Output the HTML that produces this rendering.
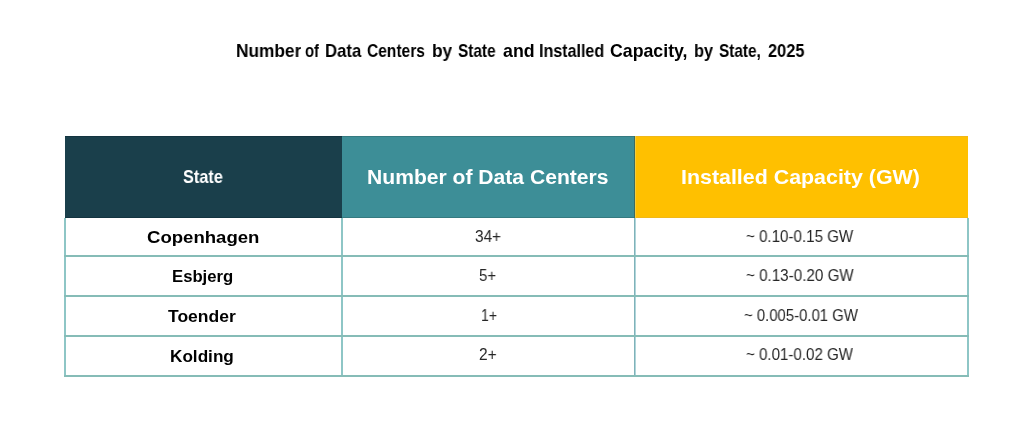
<!DOCTYPE html>
<html><head><meta charset="utf-8">
<style>
html,body{margin:0;padding:0;background:#fff;}
body{width:1027px;height:438px;position:relative;overflow:hidden;font-family:"Liberation Sans", Arial, sans-serif;}
.x{position:absolute;white-space:nowrap;line-height:1;transform-origin:0 0;will-change:transform;}
.h{position:absolute;top:136px;height:82px;}
.hl{position:absolute;background:#86bcb7;height:2px;left:64px;width:905px;}
.vl{position:absolute;background:#8ec6c6;width:2px;top:218px;height:159px;}
</style></head><body>
<div class="h" style="left:65px;width:277px;background:#1a3f4b;box-shadow:inset 0 1px 0 #133440,inset 0 -1px 0 #133440"></div>
<div class="h" style="left:342px;width:293px;background:#3d8e97;box-shadow:inset 0 1px 0 #357a80,inset 0 -1px 0 #357a80"></div>
<div class="h" style="left:635px;width:333px;background:#ffc000;box-shadow:inset 0 1px 0 #f0b818,inset 0 -1px 0 #f0b818"></div>
<div class="h" style="left:634px;width:1px;background:#3c6b60"></div>
<div class="h" style="left:635px;width:1px;background:#f6cc40"></div>
<div class="vl" style="left:64px"></div>
<div class="vl" style="left:341px"></div>
<div class="vl" style="left:634px;width:1px;background:#7fb2b9"></div>
<div class="vl" style="left:635px;width:1px;background:#b0d5da"></div>
<div class="vl" style="left:967px"></div>
<div class="hl" style="top:255px"></div>
<div class="hl" style="top:295px"></div>
<div class="hl" style="top:335px"></div>
<div class="hl" style="top:375px"></div>
<div class="x" style="left:236.16px;top:42.6px;font-size:17.71px;font-weight:bold;color:#000;transform:scaleX(0.9773)">Number</div>
<div class="x" style="left:305.35px;top:42.6px;font-size:17.71px;font-weight:bold;color:#000;transform:scaleX(0.8401)">of</div>
<div class="x" style="left:324.79px;top:42.6px;font-size:17.71px;font-weight:bold;color:#000;transform:scaleX(0.9476)">Data</div>
<div class="x" style="left:367.38px;top:42.6px;font-size:17.71px;font-weight:bold;color:#000;transform:scaleX(0.8793)">Centers</div>
<div class="x" style="left:432.26px;top:42.6px;font-size:17.71px;font-weight:bold;color:#000;transform:scaleX(0.976)">by</div>
<div class="x" style="left:458.19px;top:42.6px;font-size:17.71px;font-weight:bold;color:#000;transform:scaleX(0.8685)">State</div>
<div class="x" style="left:503.24px;top:42.6px;font-size:17.71px;font-weight:bold;color:#000;transform:scaleX(1.0049)">and</div>
<div class="x" style="left:538.74px;top:42.6px;font-size:17.71px;font-weight:bold;color:#000;transform:scaleX(0.9081)">Installed</div>
<div class="x" style="left:609.89px;top:42.6px;font-size:17.71px;font-weight:bold;color:#000;transform:scaleX(1.0027)">Capacity,</div>
<div class="x" style="left:694.22px;top:42.6px;font-size:17.71px;font-weight:bold;color:#000;transform:scaleX(0.9251)">by</div>
<div class="x" style="left:718.89px;top:42.6px;font-size:17.71px;font-weight:bold;color:#000;transform:scaleX(0.8666)">State,</div>
<div class="x" style="left:768.11px;top:42.6px;font-size:17.71px;font-weight:bold;color:#000;transform:scaleX(0.927)">2025</div>
<div class="x" style="left:182.67px;top:168.8px;font-size:17.71px;font-weight:bold;color:#fff;transform:scaleX(0.9202)">State</div>
<div class="x" style="left:367.13px;top:167px;font-size:20.0px;font-weight:bold;color:#fff;transform:scaleX(1.055)">Number of Data Centers</div>
<div class="x" style="left:680.52px;top:167.8px;font-size:19.71px;font-weight:bold;color:#fff;transform:scaleX(1.0862)">Installed Capacity (GW)</div>
<div class="x" style="left:146.56px;top:229.5px;font-size:16.6px;font-weight:bold;color:#000;transform:scaleX(1.1189)">Copenhagen</div>
<div class="x" style="left:172.1px;top:268.5px;font-size:16.6px;font-weight:bold;color:#000;transform:scaleX(1.0054)">Esbjerg</div>
<div class="x" style="left:167.93px;top:308.7px;font-size:16.6px;font-weight:bold;color:#000;transform:scaleX(1.0542)">Toender</div>
<div class="x" style="left:170.37px;top:348.7px;font-size:16.6px;font-weight:bold;color:#000;transform:scaleX(1.034)">Kolding</div>
<div class="x" style="left:474.54px;top:228.9px;font-size:15.6px;font-weight:normal;color:#262626;transform:scaleX(0.9839)">34+</div>
<div class="x" style="left:479.1px;top:267.8px;font-size:15.6px;font-weight:normal;color:#262626;transform:scaleX(0.959)">5+</div>
<div class="x" style="left:480.82px;top:308.2px;font-size:15.6px;font-weight:normal;color:#262626;transform:scaleX(0.8996)">1+</div>
<div class="x" style="left:478.63px;top:347.2px;font-size:15.6px;font-weight:normal;color:#262626;transform:scaleX(0.9865)">2+</div>
<div class="x" style="left:746.09px;top:229px;font-size:15.6px;font-weight:normal;color:#262626;transform:scaleX(0.9698)">~ 0.10-0.15 GW</div>
<div class="x" style="left:745.69px;top:267.8px;font-size:15.6px;font-weight:normal;color:#262626;transform:scaleX(0.9743)">~ 0.13-0.20 GW</div>
<div class="x" style="left:743.6px;top:307.8px;font-size:15.6px;font-weight:normal;color:#262626;transform:scaleX(0.9553)">~ 0.005-0.01 GW</div>
<div class="x" style="left:746.4px;top:347.2px;font-size:15.6px;font-weight:normal;color:#262626;transform:scaleX(0.9679)">~ 0.01-0.02 GW</div>
</body></html>
